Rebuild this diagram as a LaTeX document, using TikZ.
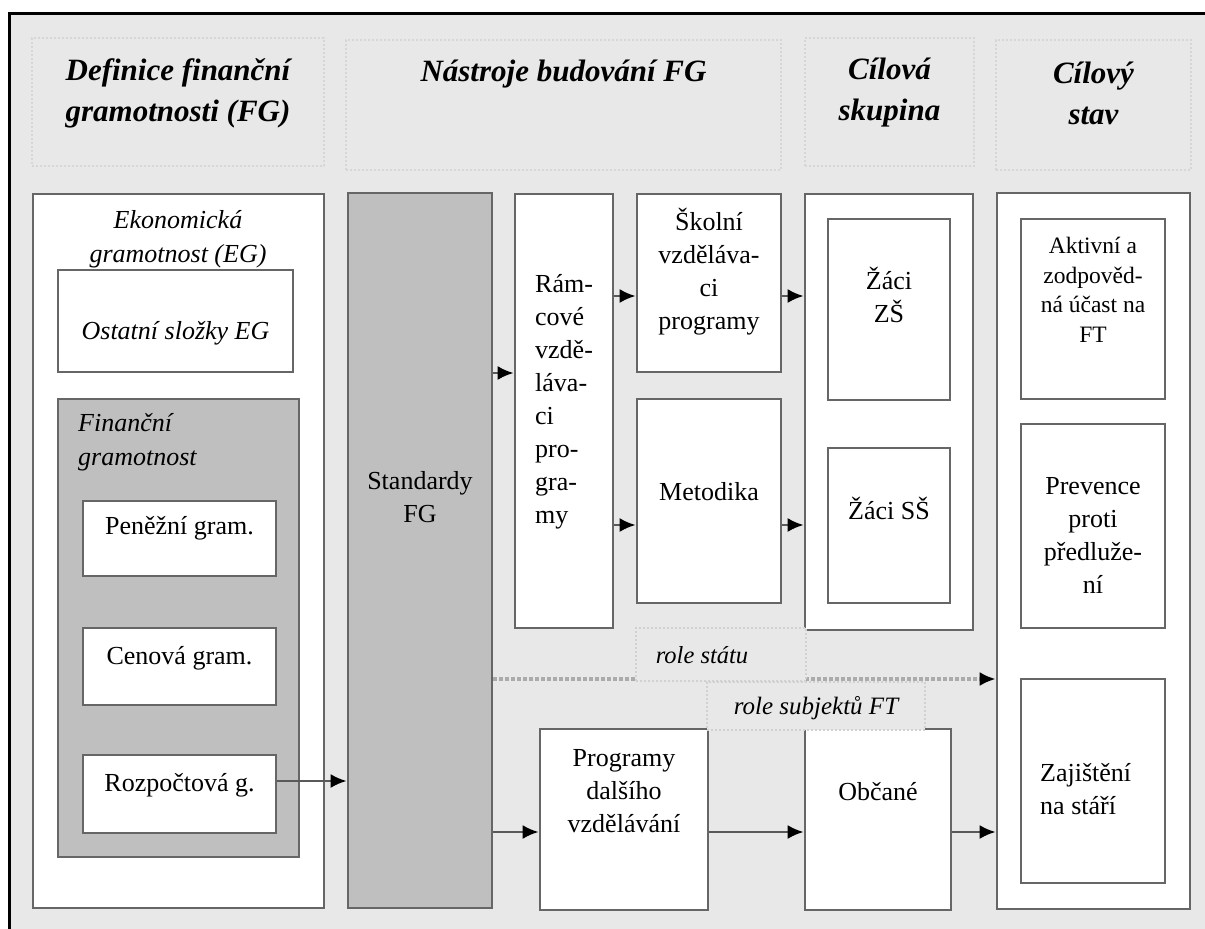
\documentclass[tikz,border=0pt]{standalone}
\usepackage{fontspec}
\setmainfont{Liberation Serif}
\usetikzlibrary{arrows.meta}
\begin{document}
\begin{tikzpicture}[x=1pt,y=-1pt,line join=miter]
  \tikzstyle{box}=[draw=black!60,line width=2.6pt,fill=white,inner sep=0pt]
  \tikzstyle{shade}=[box,fill=black!25]
  \tikzstyle{head}=[draw=black!16,dash pattern=on 2pt off 2pt,line width=2.2pt,inner sep=0pt]
  \tikzstyle{note}=[draw=black!18,dash pattern=on 2pt off 2pt,line width=1.6pt,fill=black!9,inner sep=0pt]
  \tikzstyle{txt}=[align=center,inner sep=0pt,font=\fontsize{26}{33}\selectfont]
  \tikzstyle{htxt}=[txt,font=\fontsize{31}{41}\selectfont\bfseries\itshape]
  \tikzstyle{itxt}=[txt,font=\fontsize{26}{34}\selectfont\itshape]
  \tikzstyle{stxt}=[txt,font=\fontsize{23.5}{29.5}\selectfont]
  \tikzstyle{arrow}=[draw=black!65,line width=2.6pt,-{Latex[length=16pt,width=14pt,color=black]}]
  \tikzstyle{role}=[draw=black!33,line width=4pt,dash pattern=on 4pt off 2pt,-{Latex[length=16pt,width=14pt,color=black]}]

  \useasboundingbox (0,0) rectangle (1205,929);
  \fill[black!9] (9,13) rectangle (1205,929);
  \draw[line width=3.5pt] (9.5,929) -- (9.5,13.5) -- (1205,13.5);

  % column heads
  \node[head,minimum width=292pt,minimum height=128pt] (h_def) at (178,102) {};
  \node[head,minimum width=435pt,minimum height=130pt] (h_nas) at (563.5,105) {};
  \node[head,minimum width=169pt,minimum height=128pt] (h_cil) at (889.5,102) {};
  \node[head,minimum width=195pt,minimum height=130pt] (h_sta) at (1093.5,105) {};
  \node[htxt] (t_def) at (178,93) {Definice finanční\\gramotnosti (FG)};
  \node[htxt] (t_nas) at (563.5,74) {Nástroje budování FG};
  \node[htxt] (t_cil) at (889.5,93) {Cílová\\skupina};
  \node[htxt] (t_sta) at (1093.5,93) {Cílový\\stav};

  % definition column
  \node[box,minimum width=291pt,minimum height=714pt] (eg) at (178.5,551) {};
  \node[itxt] (t_eg) at (178,239) {Ekonomická\\gramotnost (EG)};
  \node[box,minimum width=235pt,minimum height=102pt] (ostatni) at (175.5,321) {};
  \node[itxt] (t_ostatni) at (175.5,333) {Ostatní složky EG};
  \node[shade,minimum width=241pt,minimum height=458pt] (fg) at (178.5,628) {};
  \node[itxt,align=left,anchor=west] (t_fg) at (78,442) {Finanční\\gramotnost};
  \node[box,minimum width=193pt,minimum height=75pt] (penez) at (179.5,538.5) {};
  \node[txt] at (179.5,528) {Peněžní gram.};
  \node[box,minimum width=193pt,minimum height=77pt] (cenova) at (179.5,666.5) {};
  \node[txt] at (179.5,658) {Cenová gram.};
  \node[box,minimum width=193pt,minimum height=78pt] (rozp) at (179.5,794) {};
  \node[txt] at (179.5,785) {Rozpočtová g.};

  % tools
  \node[shade,minimum width=144pt,minimum height=715pt] (std) at (420,550.5) {};
  \node[txt] at (420,497) {Standardy\\FG};
  \node[box,minimum width=98pt,minimum height=434pt] (ramc) at (564,411) {};
  \node[txt,align=left,anchor=west] at (535,402) {Rám-\\cové\\vzdě-\\láva-\\ci\\pro-\\gra-\\my};
  \node[box,minimum width=144pt,minimum height=178pt] (skolni) at (709,283) {};
  \node[txt] at (709,272) {Školní\\vzděláva-\\ci\\programy};
  \node[box,minimum width=144pt,minimum height=204pt] (metod) at (709,501) {};
  \node[txt] at (709,492) {Metodika};
  \node[box,minimum width=168pt,minimum height=181pt] (progr) at (624,819.5) {};
  \node[txt] at (624,791) {Programy\\dalšího\\vzdělávání};

  % target group
  \node[box,minimum width=168pt,minimum height=436pt] (cil) at (889,412) {};
  \node[box,minimum width=122pt,minimum height=181pt] (zs) at (889,309.5) {};
  \node[txt] at (889,295) {Žáci\\ZŠ};
  \node[box,minimum width=122pt,minimum height=155pt] (ss) at (889,525.5) {};
  \node[txt] at (889,508) {Žáci SŠ};
  \node[box,minimum width=146pt,minimum height=181pt] (obcane) at (878,819.5) {};
  \node[txt] at (878,792) {Občané};

  % target state
  \node[box,minimum width=193pt,minimum height=716pt] (stav) at (1093.5,551) {};
  \node[box,minimum width=144pt,minimum height=180pt] (aktiv) at (1093,309) {};
  \node[stxt] at (1093,290) {Aktivní a\\zodpověd-\\ná účast na\\FT};
  \node[box,minimum width=144pt,minimum height=204pt] (prev) at (1093,526) {};
  \node[txt] at (1093,535) {Prevence\\proti\\předluže-\\ní};
  \node[box,minimum width=144pt,minimum height=204pt] (zajist) at (1093,781) {};
  \node[txt,align=left,anchor=west] at (1040,789) {Zajištění\\na stáří};

  % roles
  \draw[role] (std.east |- 0,679) -- (stav.west |- 0,679);
  \node[note,minimum width=170pt,minimum height=53pt] (r_stat) at (721,654.5) {};
  \node[itxt,font=\fontsize{24.5}{30}\selectfont\itshape] at (702,655) {role státu};
  \node[note,minimum width=218pt,minimum height=48pt] (r_subj) at (816,706) {};
  \node[itxt,font=\fontsize{25}{30}\selectfont\itshape] at (816,708) {role subjektů FT};

  % arrows
  \draw[arrow] (rozp.east |- 0,781) -- (std.west |- 0,781);
  \draw[arrow] (std.east |- 0,373) -- (ramc.west |- 0,373);
  \draw[arrow] (ramc.east |- 0,296) -- (skolni.west |- 0,296);
  \draw[arrow] (ramc.east |- 0,525) -- (metod.west |- 0,525);
  \draw[arrow] (skolni.east |- 0,296) -- (cil.west |- 0,296);
  \draw[arrow] (metod.east |- 0,525) -- (cil.west |- 0,525);
  \draw[arrow] (std.east |- 0,832) -- (progr.west |- 0,832);
  \draw[arrow] (progr.east |- 0,832) -- (obcane.west |- 0,832);
  \draw[arrow] (obcane.east |- 0,832) -- (stav.west |- 0,832);
\end{tikzpicture}
\end{document}
